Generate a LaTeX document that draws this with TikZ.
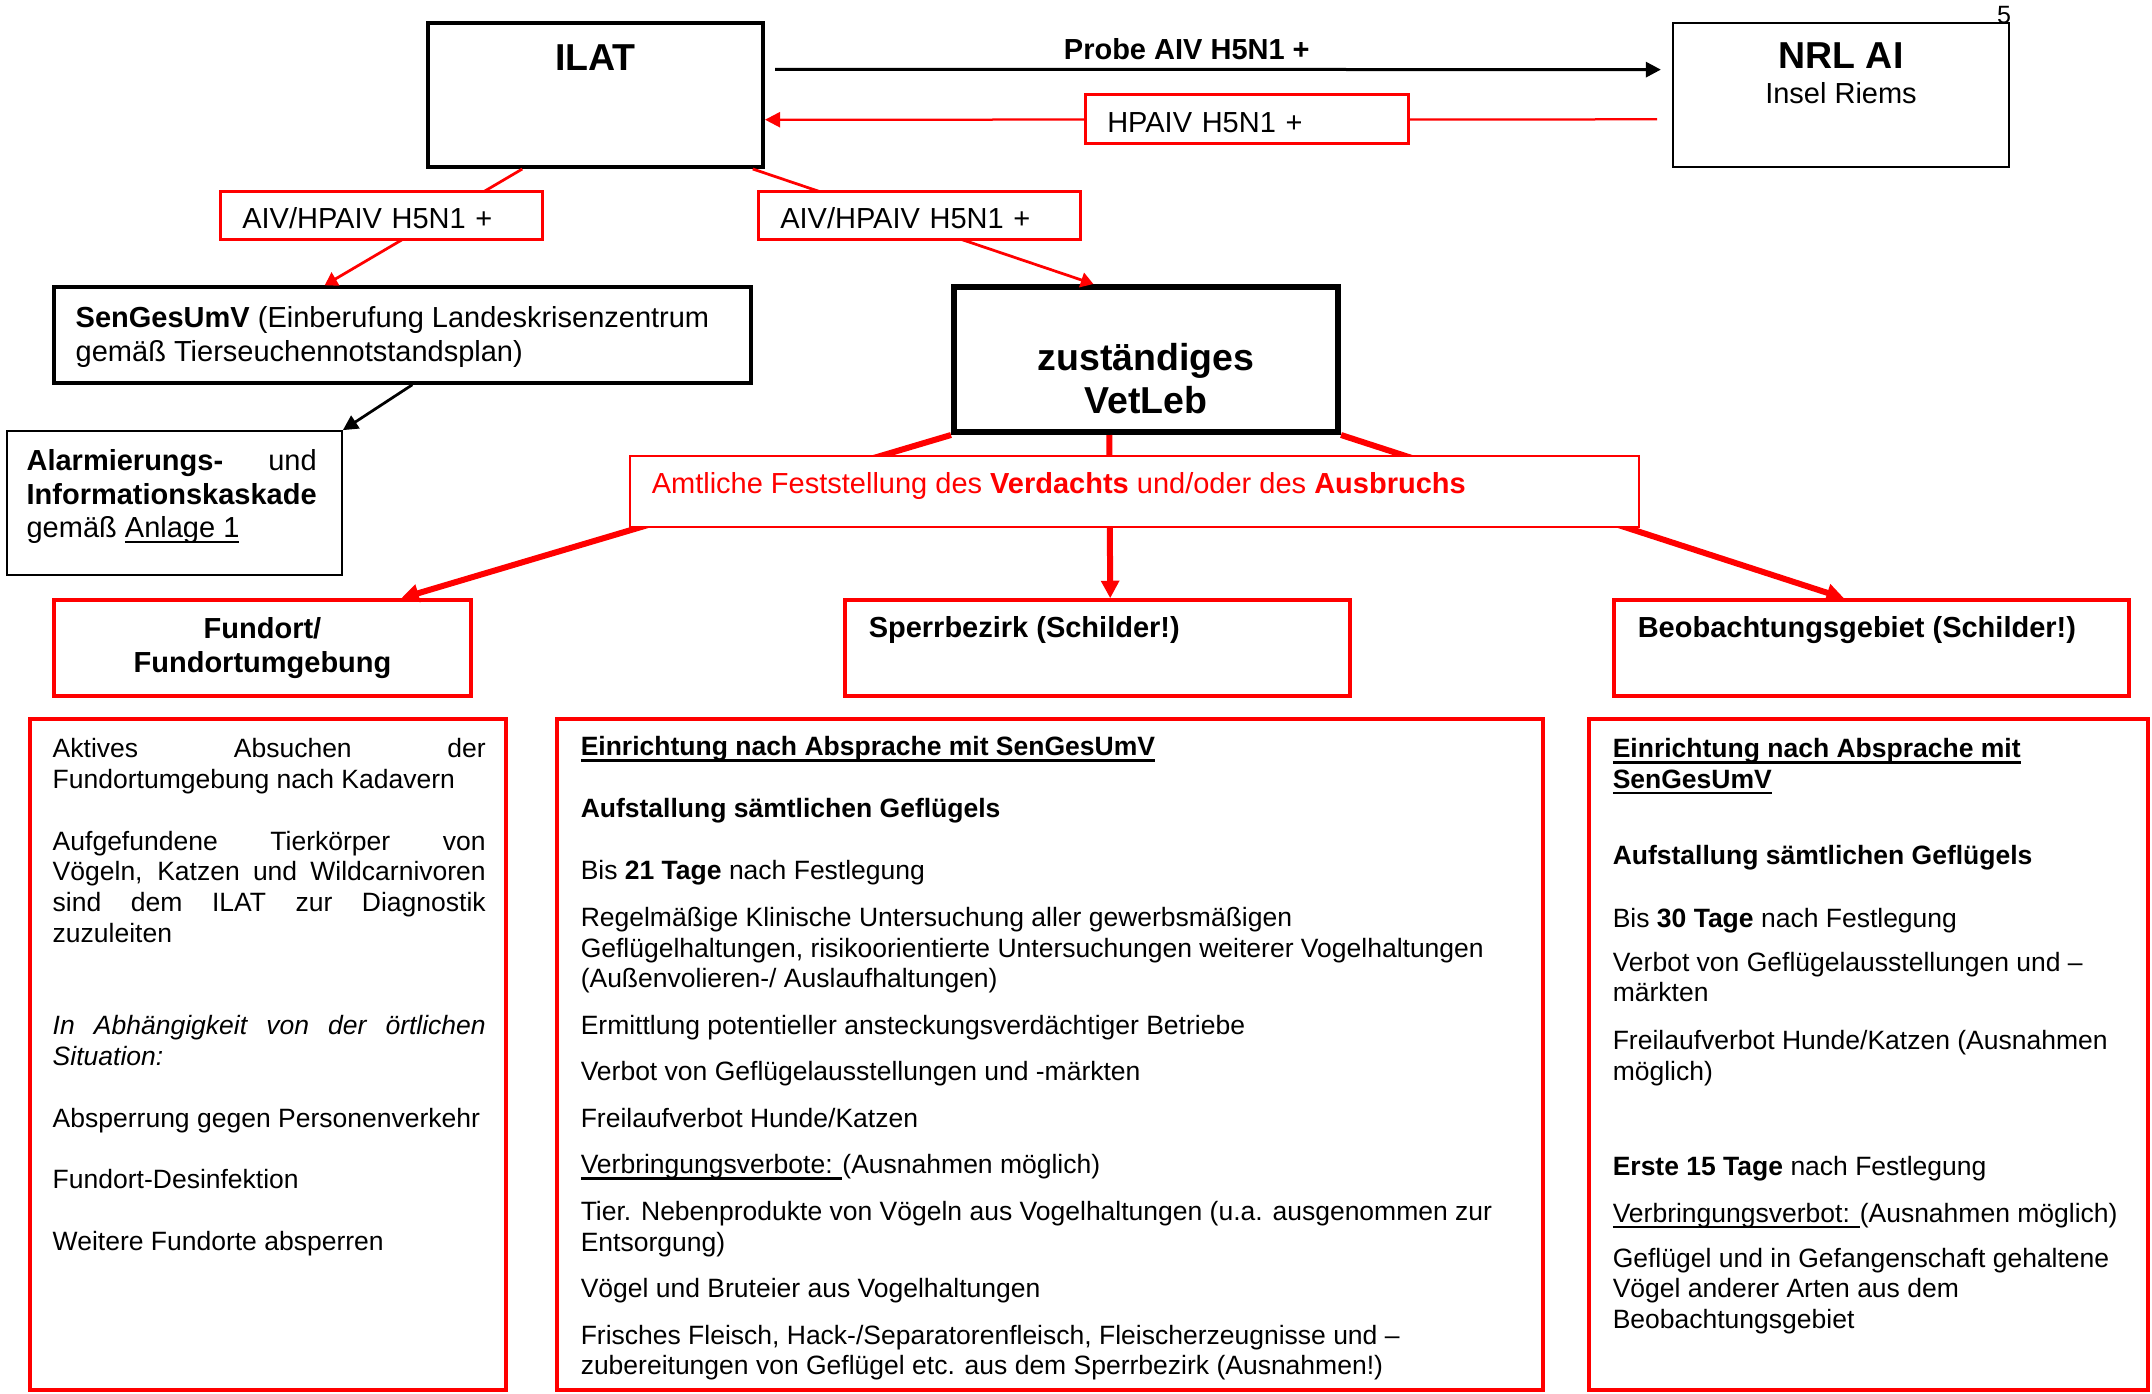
\documentclass[tikz,border=0pt]{standalone}
\usepackage{fontspec}
\setmainfont{Liberation Sans}
\usepackage{calc}
\usetikzlibrary{arrows.meta, calc, positioning}

% Text sizes
\newcommand{\txtsmall}{\fontsize{10.6}{12.3}\selectfont}
\newcommand{\txtmid}{\fontsize{11.6}{13.4}\selectfont}
\newcommand{\txtbig}{\fontsize{15}{17.2}\selectfont\bfseries}

% Word-like underline
\newsavebox{\ulbox}
\newcommand{\undl}[1]{\sbox{\ulbox}{#1}\rlap{\rule[-2.3pt]{\wd\ulbox}{0.9pt}}\usebox{\ulbox}}

\begin{document}
\begin{tikzpicture}[x=0.4pt, y=-0.4pt,
    box/.style={draw, rectangle, fill=white, inner sep=0pt},
    redbox/.style={box, draw=alarmred},
    tag/.style={redbox, line width=1.1pt, text width=111.4pt, inner xsep=8.6pt,
        inner ysep=0pt, minimum height=19.4pt, text height=10.6pt, text depth=0pt,
        align=left, font=\txtmid},
    txt/.style={inner sep=0pt, align=left, anchor=north west},
    blackarrow/.style={line width=1.2pt, -{Triangle[length=6pt, width=6pt]}},
    redarrow/.style={alarmred, line width=1.1pt, -{Triangle[length=5pt, width=6pt]}},
    bigarrow/.style={alarmred, line width=2.4pt, -{Triangle[length=7pt, width=7pt]}}
]

% Define colors
\definecolor{alarmred}{RGB}{255,0,0}

% Page size
\useasboundingbox (0,0) rectangle (2152,1393);

% Page number
\node[inner sep=0pt, anchor=base, font=\fontsize{10}{12}\selectfont] (page) at (2004,23) {5};

% Top row - ILAT and NRL
\node[box, line width=1.6pt, minimum width=134pt, minimum height=57.6pt] (ilat) at (595.5,95) {};
\node[box, line width=0.7pt, minimum width=134.4pt, minimum height=57.6pt] (nrl) at (1841,95) {};

% Second row - SenGesUmV and VetLeb
\node[box, line width=1.4pt, minimum width=278.8pt, minimum height=38.4pt] (sen) at (402.5,335) {};
\node[box, line width=0.7pt, minimum width=134pt, minimum height=57.6pt] (alarm) at (174.5,503) {};
\node[box, line width=2.4pt, minimum width=153.6pt, minimum height=58pt] (vet) at (1146,359.5) {};

% Areas
\node[redbox, line width=1.4pt, minimum width=166.8pt, minimum height=38.4pt, align=center,
    font=\txtmid\bfseries] (fund) at (262.5,648) {Fundort/\\Fundortumgebung};
\node[redbox, line width=1.4pt, minimum width=202pt, minimum height=38.4pt] (sperr) at (1097.5,648) {};
\node[redbox, line width=1.4pt, minimum width=206pt, minimum height=38.4pt] (beob) at (1871.5,648) {};

% Measures per area
\node[redbox, line width=1.4pt, minimum width=190.4pt, minimum height=268.4pt] (fundinfo) at (268,1054.5) {};
\node[redbox, line width=1.4pt, minimum width=394.4pt, minimum height=268.4pt] (sperrinfo) at (1050,1054.5) {};
\node[redbox, line width=1.4pt, minimum width=223.6pt, minimum height=268.4pt] (beobinfo) at (1868.5,1054.5) {};

% Connectors
\draw[blackarrow, shorten <=4pt, shorten >=4.5pt]
    ($(ilat.north east)!0.326!(ilat.south east)$) -- ($(nrl.north west)!0.326!(nrl.south west)$)
    node[above, pos=0.465, font=\txtmid\bfseries] (probe) {Probe AIV H5N1 +};
\draw[alarmred, line width=0.9pt, shorten <=6pt, -{Triangle[length=6pt, width=6pt]}]
    ($(nrl.north west)!0.667!(nrl.south west)$) -- ($(ilat.north east)!0.667!(ilat.south east)$);
\draw[redarrow] ($(ilat.south west)!0.284!(ilat.south east)$) -- ($(sen.north west)!0.389!(sen.north east)$);
\draw[redarrow] ($(ilat.south west)!0.964!(ilat.south east)$) -- ($(vet.north west)!0.365!(vet.north east)$);
\draw[blackarrow, line width=1.1pt] ($(sen.south west)!0.514!(sen.south east)$) -- (alarm.north east);
\draw[bigarrow] (vet.south west) -- ($(fund.north west)!0.83!(fund.north east)$);
\draw[bigarrow] ($(vet.south west)!0.406!(vet.south east)$) -- ($(sperr.north west)!0.525!(sperr.north east)$);
\draw[bigarrow] (vet.south east) -- ($(beob.north west)!0.447!(beob.north east)$);

% Labels on the connectors
\node[tag, text width=111.8pt] (hpaiv) at (1247,119) {HPAIV H5N1 +};
\node[tag] (aivl) at (381.5,215.5) {AIV/HPAIV H5N1 +};
\node[tag] (aivr) at (919.5,215.5) {AIV/HPAIV H5N1 +};
\node[redbox, line width=0.6pt, minimum width=403.6pt, minimum height=28.4pt] (amtl) at (1134.5,491.5) {};

% Texts
\node[inner sep=0pt, anchor=base, font=\txtbig] (ilatt) at ([shift={(0,49)}]ilat.north) {ILAT};
\node[inner sep=0pt, anchor=base, font=\txtbig] (nrlt) at ([shift={(0,46)}]nrl.north) {NRL AI};
\node[inner sep=0pt, anchor=base, font=\txtmid] (nrls) at ([shift={(0,81)}]nrl.north) {Insel Riems};
\node[txt, font=\txtmid] (sent) at ([shift={(23,21)}]sen.north west)
    {\textbf{SenGesUmV} (Einberufung Landeskrisenzentrum\\gemäß Tierseuchennotstandsplan)};
\node[txt, font=\txtmid] (alarmt) at ([shift={(20,19)}]alarm.north west)
    {\makebox[\widthof{\bfseries Informationskaskade}][s]{\textbf{Alarmierungs-} und}\\
     \textbf{Informationskaskade}\\
     gemäß \undl{Anlage 1}};
\node[inner sep=0pt, anchor=north, align=center, font=\txtbig] (vett) at ([shift={(0,59)}]vet.north)
    {zuständiges\\VetLeb};
\node[txt, anchor=base west, text=alarmred, font=\txtmid] (amtlt) at ([shift={(22,38)}]amtl.north west)
    {Amtliche Feststellung des \textbf{Verdachts} und/oder des \textbf{Ausbruchs}};
\node[txt, anchor=base west, font=\txtmid\bfseries] (sperrt) at ([shift={(25,39)}]sperr.north west) {Sperrbezirk (Schilder!)};
\node[txt, anchor=base west, font=\txtmid\bfseries] (beobt) at ([shift={(25,39)}]beob.north west) {Beobachtungsgebiet (Schilder!)};

% Fundort measures
\node[txt, font=\txtsmall] (fundinfot) at ([shift={(24,21)}]fundinfo.north west)
    {\makebox[173.2pt][s]{Aktives Absuchen der}\\
     Fundortumgebung nach Kadavern\\[12.3pt]
     \makebox[173.2pt][s]{Aufgefundene Tierkörper von}\\
     \makebox[173.2pt][s]{Vögeln, Katzen und Wildcarnivoren}\\
     \makebox[173.2pt][s]{sind dem ILAT zur Diagnostik}\\
     zuzuleiten\\[24.6pt]
     \makebox[173.2pt][s]{\itshape In Abhängigkeit von der örtlichen}\\
     \textit{Situation:}\\[12.4pt]
     Absperrung gegen Personenverkehr\\[12.4pt]
     Fundort-Desinfektion\\[12.4pt]
     Weitere Fundorte absperren};

% Sperrbezirk measures
\node[txt, font=\txtsmall] (sperrinfot) at ([shift={(25,19)}]sperrinfo.north west)
    {\undl{\textbf{Einrichtung nach Absprache mit SenGesUmV}}\\[12.5pt]
     \textbf{Aufstallung sämtlichen Geflügels}\\[12.5pt]
     Bis \textbf{21 Tage} nach Festlegung\\[6.3pt]
     Regelmäßige Klinische Untersuchung aller gewerbsmäßigen\\
     Geflügelhaltungen, risikoorientierte Untersuchungen weiterer Vogelhaltungen\\
     (Außenvolieren-/ Auslaufhaltungen)\\[6.3pt]
     Ermittlung potentieller ansteckungsverdächtiger Betriebe\\[6.3pt]
     Verbot von Geflügelausstellungen und -märkten\\[6.3pt]
     Freilaufverbot Hunde/Katzen\\[6.3pt]
     \undl{Verbringungsverbote: }(Ausnahmen möglich)\\[6.3pt]
     Tier. Nebenprodukte von Vögeln aus Vogelhaltungen (u.a. ausgenommen zur\\
     Entsorgung)\\[6.3pt]
     Vögel und Bruteier aus Vogelhaltungen\\[6.3pt]
     Frisches Fleisch, Hack-/Separatorenfleisch, Fleischerzeugnisse und –\\
     zubereitungen von Geflügel etc. aus dem Sperrbezirk (Ausnahmen!)};

% Beobachtungsgebiet measures
\node[txt, font=\txtsmall] (beobinfot) at ([shift={(25,21)}]beobinfo.north west)
    {\undl{\textbf{Einrichtung nach Absprache mit}}\\
     \undl{\textbf{SenGesUmV}}\\[18.1pt]
     \textbf{Aufstallung sämtlichen Geflügels}\\[12.7pt]
     Bis \textbf{30 Tage} nach Festlegung\\[5.3pt]
     Verbot von Geflügelausstellungen und –\\
     märkten\\[6.9pt]
     Freilaufverbot Hunde/Katzen (Ausnahmen\\
     möglich)\\[25.7pt]
     \textbf{Erste 15 Tage} nach Festlegung\\[6.3pt]
     \undl{Verbringungsverbot: }(Ausnahmen möglich)\\[5.7pt]
     Geflügel und in Gefangenschaft gehaltene\\
     Vögel anderer Arten aus dem\\
     Beobachtungsgebiet};

\end{tikzpicture}
\end{document}
